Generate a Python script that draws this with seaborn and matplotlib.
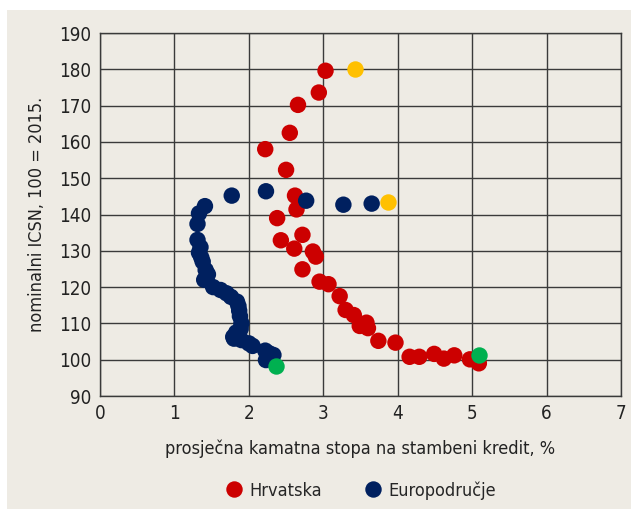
import matplotlib
matplotlib.use('Agg')
import matplotlib.pyplot as plt
from matplotlib.patches import Rectangle
import pandas as pd
import seaborn as sns

# Croatia: average housing loan rate (%) vs nominal house price index (2015 = 100)
hr_rate = [3.03, 2.94, 2.66, 2.55, 2.22, 2.50, 2.62, 2.64, 2.38, 2.72, 2.43, 2.61,
           2.86, 2.90, 2.72, 2.95, 3.07, 3.22, 3.30, 3.41, 3.58, 3.49, 3.60, 3.74,
           3.97, 4.16, 4.29, 4.49, 4.62, 4.76, 4.97, 5.09]
hr_index = [179.6, 173.6, 170.2, 162.5, 158.0, 152.3, 145.2, 141.4, 139.0, 134.4, 132.9, 130.6,
            129.8, 128.4, 124.9, 121.5, 120.8, 117.5, 113.7, 112.3, 110.2, 109.3, 108.7, 105.2,
            104.7, 100.8, 100.8, 101.6, 100.3, 101.2, 100.1, 99.0]

# Euro area
ea_rate = [3.65, 3.27, 2.77, 2.23, 1.77, 1.41, 1.33, 1.31, 1.31, 1.35, 1.33, 1.36,
           1.38, 1.42, 1.45, 1.40, 1.52, 1.62, 1.70, 1.76, 1.84, 1.86, 1.87, 1.88,
           1.90, 1.89, 1.83, 1.79, 1.80, 1.90, 2.00, 2.05, 2.22, 2.27, 2.33, 2.30, 2.23]
ea_index = [143.0, 142.7, 143.8, 146.4, 145.2, 142.3, 140.3, 137.4, 133.0, 131.0, 129.5, 128.2,
            127.0, 124.7, 123.5, 122.0, 120.0, 119.2, 118.3, 117.3, 116.0, 114.8, 113.5, 112.0,
            110.0, 108.5, 107.5, 106.3, 105.8, 105.4, 104.5, 103.8, 102.5, 101.8, 101.3, 100.5, 99.9]

# first (green) and latest (yellow) observations
first_rate = [5.09, 2.36]
first_index = [101.3, 98.3]
last_rate = [3.42, 3.87]
last_index = [180.2, 143.4]

SERIES = ['Hrvatska', 'Europodručje']
COLORS = {'Hrvatska': '#CC0000', 'Europodručje': '#00205F'}

df = pd.DataFrame({
    'rate': hr_rate + ea_rate,
    'index': hr_index + ea_index,
    'serija': [SERIES[0]] * len(hr_rate) + [SERIES[1]] * len(ea_rate),
})

sns.set_style('white')
plt.rcParams['font.family'] = ['Liberation Sans Narrow', 'DejaVu Sans']
plt.rcParams['font.stretch'] = 'condensed'

BG = '#EEEBE4'
fig = plt.figure(figsize=(6.31, 5.14), dpi=100, facecolor='white')
fig.patches.append(Rectangle((7 / 631, 5 / 514), 1 - 7 / 631, 499 / 514,
                             transform=fig.transFigure, facecolor=BG,
                             edgecolor='none', zorder=-10))
ax = fig.add_axes([100 / 631, 1 - 396 / 514, 521 / 631, 363 / 514])
ax.set_facecolor(BG)

S = 140
sns.scatterplot(data=df, x='rate', y='index', hue='serija', hue_order=SERIES,
                palette=COLORS, s=S, linewidth=0, ax=ax, zorder=3)
sns.scatterplot(x=first_rate, y=first_index, color='#00B050', s=S, linewidth=0,
                ax=ax, zorder=4, legend=False)
sns.scatterplot(x=last_rate, y=last_index, color='#FFC000', s=S, linewidth=0,
                ax=ax, zorder=4, legend=False)

ax.set_xlim(0, 7)
ax.set_ylim(90, 190)
ax.set_xticks(range(0, 8))
ax.set_yticks(range(90, 191, 10))
ax.grid(True, color='#3a3a3a', linewidth=1.0)
ax.set_axisbelow(True)
for sp in ax.spines.values():
    sp.set_color('#3a3a3a')
    sp.set_linewidth(1.0)
ax.tick_params(length=0, labelsize=13.5, colors='#222222', pad=6)

ax.set_xlabel('prosječna kamatna stopa na stambeni kredit, %', fontsize=13,
              color='#222222', labelpad=12)
ax.set_ylabel('nominalni ICSN, 100 = 2015.', fontsize=13, color='#222222',
              labelpad=10)

handles, labels = ax.get_legend_handles_labels()
ax.legend(handles, labels, loc='upper center', bbox_to_anchor=(0.5, -0.19),
          ncol=2, frameon=False, fontsize=13, handlelength=1.0,
          handletextpad=0.35, columnspacing=2.3, markerscale=1.0)

fig.savefig('out.png', dpi=100, facecolor='white')
